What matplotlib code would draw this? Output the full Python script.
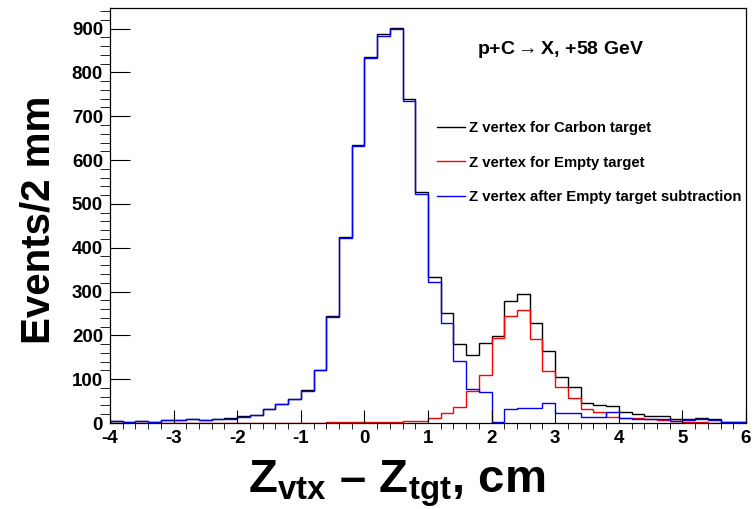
import matplotlib
matplotlib.use('Agg')
import matplotlib.pyplot as plt
import numpy as np
from matplotlib.lines import Line2D
from matplotlib.ticker import MultipleLocator

# Bold Helvetica-like look, with DejaVu as a fallback for the arrow glyph
plt.rcParams['font.family'] = ['Liberation Sans', 'DejaVu Sans']
plt.rcParams['font.weight'] = 'bold'
plt.rcParams['axes.labelweight'] = 'bold'
plt.rcParams['axes.unicode_minus'] = False
plt.rcParams['mathtext.fontset'] = 'custom'
plt.rcParams['mathtext.rm'] = 'Liberation Sans:bold'
plt.rcParams['mathtext.it'] = 'Liberation Sans:bold'
plt.rcParams['mathtext.bf'] = 'Liberation Sans:bold'

# Binning: 2 mm bins from -4 to 6 cm
z_min = -4.0
z_max = 6.0
n_bins = 50

# Events per bin
carbon = [5, 2, 5, 2, 6, 6, 9, 7, 10, 11,
          15, 19, 32, 44, 55, 75, 122, 244, 424, 634,
          836, 888, 902, 740, 527, 334, 252, 180, 155, 182,
          198, 279, 295, 228, 165, 104, 83, 46, 40, 38,
          25, 21, 17, 15, 10, 9, 12, 8, 2, 2]
empty = [0, 0, 0, 0, 0, 0, 0, 1, 1, 1,
         1, 1, 1, 1, 1, 1, 1, 2, 2, 2,
         2, 3, 3, 4, 5, 12, 22, 37, 74, 110,
         195, 244, 258, 191, 119, 83, 58, 32, 26, 13,
         11, 11, 8, 6, 4, 3, 3, 1, 0, 0]
subtracted = [5, 2, 5, 2, 6, 6, 9, 6, 9, 10,
              14, 18, 31, 43, 54, 74, 121, 241, 422, 632,
              834, 884, 899, 735, 522, 321, 228, 141, 78, 70,
              3, 32, 35, 34, 45, 22, 22, 13, 14, 24,
              12, 10, 9, 8, 5, 6, 8, 7, 2, 2]

labels = ['Z vertex for Carbon target',
          'Z vertex for Empty target',
          'Z vertex after Empty target subtraction']
colors = ['black', 'red', 'blue']

edges = np.linspace(z_min, z_max, n_bins + 1)

fig = plt.figure(figsize=(7.55, 5.09), dpi=100)
ax = fig.add_axes([110 / 755, 1 - 423 / 509, 636 / 755, 415 / 509])

# Histograms drawn as step outlines
for counts, c in zip([carbon, empty, subtracted], colors):
    ax.stairs(counts, edges, color=c, lw=1)

ax.set_xlim(z_min, z_max)
ax.set_ylim(0, 947)

# Axis ticks
ax.xaxis.set_major_locator(MultipleLocator(1))
ax.xaxis.set_minor_locator(MultipleLocator(0.2))
ax.yaxis.set_major_locator(MultipleLocator(100))
ax.yaxis.set_minor_locator(MultipleLocator(20))
ax.tick_params(direction='in', top=False, right=False, labelsize=13.5,
               width=0.8, color='black')
ax.tick_params(axis='x', which='major', length=9.5, pad=5)
ax.tick_params(axis='x', which='minor', length=4.5)
ax.tick_params(axis='y', which='major', length=14.5, pad=5)
ax.tick_params(axis='y', which='minor', length=7.5)
for sp in ax.spines.values():
    sp.set_linewidth(0.9)

# Axis titles
ax.set_xlabel(r'Z$_\mathrm{vtx}$ – Z$_\mathrm{tgt}$, cm', fontsize=34)
ax.xaxis.set_label_coords(0.451, -0.086)
ax.set_ylabel('Events/2 mm', fontsize=29)
ax.yaxis.set_label_coords(-0.082, 0.489)

# Reaction label
ax.text(0.709, 0.9, r'p+C$\rightarrow$X, +58 GeV', transform=ax.transAxes,
        ha='center', va='center', fontsize=14)

# Legend
handles = [Line2D([], [], color=c, lw=1) for c in colors]
ax.legend(handles, labels, loc='upper left', bbox_to_anchor=(0.514, 0.728),
          frameon=False, fontsize=10.7, borderpad=0, borderaxespad=0,
          handlelength=1.9, handletextpad=0.25, labelspacing=1.4)

fig.savefig('out.png', dpi=100)
